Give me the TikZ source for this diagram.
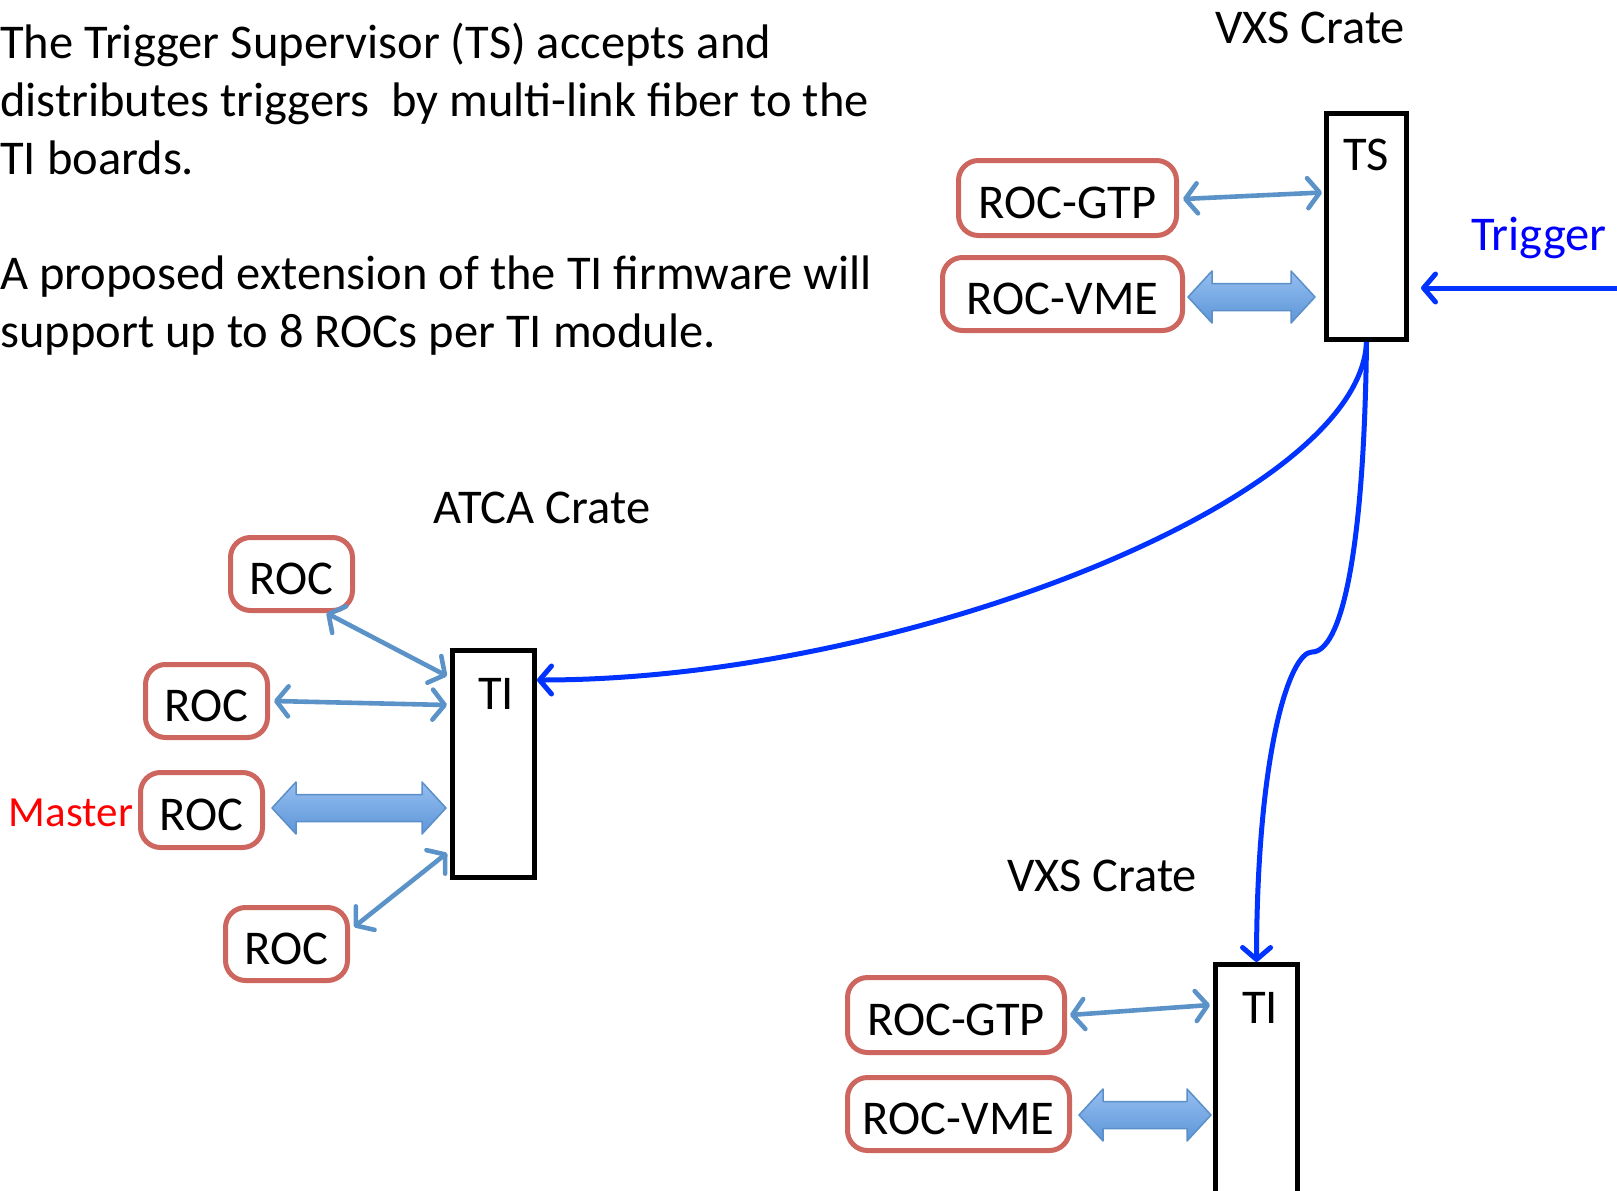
\documentclass[tikz,border=0pt]{standalone}
\usepackage{fontspec}
\setmainfont{Carlito}
\usetikzlibrary{arrows.meta,calc}
\definecolor{rocred}{HTML}{CD665E}
\definecolor{lblue}{HTML}{5B93C9}
\definecolor{fattop}{HTML}{95BEF0}
\definecolor{fatbot}{HTML}{5D96D8}
\definecolor{fatedge}{HTML}{5B8FC9}
\definecolor{fiber}{HTML}{0033FF}
\tikzset{
  rocbox/.style={draw=rocred, line width=5pt, rounded corners=20pt, fill=white, inner sep=0pt,
    text height=40pt, text depth=0pt},
  blackbox/.style={draw=black, line width=5pt, fill=white, inner sep=0pt},
  plain/.style={inner sep=0pt, anchor=base},
  thinarr/.style={draw=lblue, line width=4.6pt, line cap=round,
    {Straight Barb[length=12pt,width=30pt,round]}-{Straight Barb[length=12pt,width=30pt,round]}},
  fiberarr/.style={draw=fiber, line width=5pt, -{Straight Barb[length=12pt,width=28pt,round]}},
  fatstyle/.style={draw=fatedge, line width=1.5pt, line join=round, top color=fattop, bottom color=fatbot},
}
\newcommand\fatarrow[2]{%
  \draw[fatstyle] let \p1=(#1), \p2=(#2) in
  (\x1,\y1) -- (\x1+24pt,\y1+26pt) -- (\x1+24pt,\y1+13.5pt) -- (\x2-24pt,\y1+13.5pt)
  -- (\x2-24pt,\y1+26pt) -- (\x2,\y1) -- (\x2-24pt,\y1-26pt) -- (\x2-24pt,\y1-13.5pt)
  -- (\x1+24pt,\y1-13.5pt) -- (\x1+24pt,\y1-26pt) -- cycle;}
\begin{document}
\begin{tikzpicture}[x=1pt,y=-1pt,font=\fontsize{48.5}{57.75}\selectfont]
\useasboundingbox (0,0) rectangle (1617,1191);
\clip (0,0) rectangle (1617,1191);

% paragraph
\node[inner sep=0pt, anchor=north west, align=left] (para) at (0,23)
  {The Trigger Supervisor (TS) accepts and\\
   distributes triggers\ \ by multi-link fiber to the\\
   TI boards.\\[57.75pt]
   A proposed extension of the TI firmware will\\
   support up to 8 ROCs per TI module.};

% top VXS crate
\node[plain] (vxs1) at (1310,43) {VXS Crate};
\node[blackbox, minimum width=80pt, minimum height=226pt] (ts) at (1366.5,226.5) {};
\node[plain] (tslbl) at (1366,170) {TS};
\node[rocbox, minimum width=218pt, minimum height=75pt] (tsgtp) at (1067.5,198) {ROC-GTP};
\node[rocbox, minimum width=240pt, minimum height=73pt] (tsvme) at (1062.5,294) {ROC-VME};
\node[plain, text=blue] (trig) at (1539,250) {Trigger};
\coordinate (trigsrc) at (1630,288);

% ATCA crate
\node[plain] (atca) at (542,523) {ATCA Crate};
\node[rocbox, minimum width=122pt, minimum height=73pt] (roc1) at (291.5,574) {ROC};
\node[rocbox, minimum width=122pt, minimum height=73pt] (roc2) at (206.5,701) {ROC};
\node[rocbox, minimum width=122pt, minimum height=75pt] (roc3) at (201.5,810) {ROC};
\node[rocbox, minimum width=122pt, minimum height=73pt] (roc4) at (286.5,944) {ROC};
\node[plain, text=red, font=\fontsize{43}{50}\selectfont] (master) at (71,826) {Master};
\node[blackbox, minimum width=82pt, minimum height=227pt] (ti1) at (493.5,764) {};
\node[plain] (ti1lbl) at (496,709) {TI};

% bottom VXS crate
\node[plain] (vxs2) at (1102,891) {VXS Crate};
\node[rocbox, minimum width=217pt, minimum height=75pt] (bgtp) at (956,1015) {ROC-GTP};
\node[rocbox, minimum width=222pt, minimum height=73pt] (bvme) at (958.5,1114) {ROC-VME};
\node[blackbox, minimum width=82pt, minimum height=273pt] (ti2) at (1256.5,1101) {};
\node[plain] (ti2lbl) at (1260,1023) {TI};

% thin arrows
\draw[thinarr] ([xshift=4pt,yshift=-1pt]tsgtp.east) -- ([xshift=-2pt,yshift=34pt]ts.west);
\draw[thinarr] ([xshift=35pt]roc1.south) -- ([xshift=-3pt,yshift=-28pt]ti1.north west);
\draw[thinarr] ([xshift=4pt]roc2.east) -- ([xshift=-3pt,yshift=-57pt]ti1.north west);
\draw[thinarr] ([xshift=4pt,yshift=17pt]roc4.east) -- ([xshift=-3pt,yshift=27pt]ti1.south west);
\draw[thinarr] ([xshift=3pt]bgtp.east) -- ([xshift=-3pt,yshift=-43pt]ti2.north west);

% fat arrows
\fatarrow{[xshift=3pt,yshift=-3pt]tsvme.east}{[xshift=-9pt]ts.west}
\fatarrow{[xshift=7pt,yshift=2pt]roc3.east}{[xshift=-4pt]ti1.west}
\fatarrow{[xshift=7pt,yshift=-1pt]bvme.east}{[xshift=-2pt]ti2.west}

% fiber links
\draw[fiberarr] (trigsrc) -- ([xshift=12pt,yshift=-61.5pt]ts.east);
\draw[fiberarr] (ts.south) .. controls (1360,500) and (900,680) .. ([yshift=84pt]ti1.east);
\draw[fiberarr] (ts.south) .. controls (1364,560) and (1340,652) .. (1312,652)
  .. controls (1290,652) and (1257,750) .. (ti2.north);
\end{tikzpicture}
\end{document}
